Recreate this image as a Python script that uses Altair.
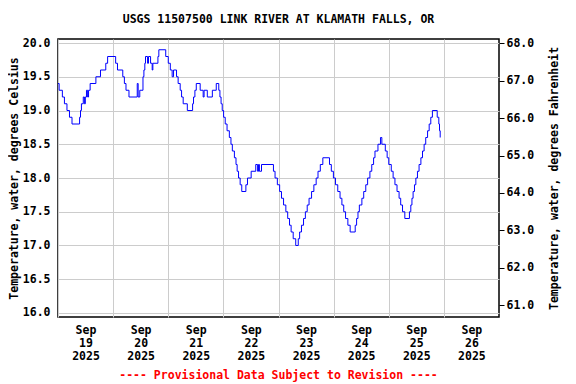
import altair as alt
import pandas as pd

# hours after 2025-09-19 00:00 at which the reading changes, and the reading (deg C)
hours = [0.0, 0.5, 1.9, 2.8, 3.9, 5.0, 6.1, 9.4, 9.8, 10.2, 11.0, 11.5, 11.9, 12.4, 12.9, 13.3,
         14.0, 16.5, 18.5, 20.8, 21.6, 25.1, 25.9, 28.2, 28.9, 29.6, 30.9, 34.5, 34.9, 35.6,
         37.0, 37.4, 37.8, 38.1, 39.0, 39.4, 40.3, 41.0, 41.3, 43.5, 43.9, 46.9, 48.0, 48.9,
         49.7, 50.3, 51.6, 52.3, 53.2, 53.8, 54.5, 56.3, 58.6, 59.0, 59.6, 60.2, 61.9, 63.2,
         63.6, 65.0, 67.2, 68.9, 70.0, 70.5, 71.0, 71.5, 72.1, 72.8, 73.6, 74.6, 75.3, 75.9,
         76.8, 77.5, 78.0, 78.6, 79.3, 80.0, 81.8, 82.5, 84.1, 86.1, 86.9, 87.3, 87.7, 88.6,
         93.8, 94.5, 95.5, 96.5, 97.3, 98.2, 99.2, 100.0, 100.8, 101.5, 102.4, 103.5, 104.6,
         105.2, 106.0, 106.9, 107.7, 108.5, 109.3, 110.4, 111.4, 112.4, 113.2, 114.2, 115.3,
         118.2, 119.0, 119.9, 120.8, 121.8, 122.8, 123.6, 124.4, 125.2, 126.2, 127.2, 129.4,
         130.0, 130.6, 131.2, 132.3, 133.1, 134.0, 134.8, 135.8, 136.6, 137.4, 138.0, 139.3,
         140.4, 141.0, 142.5, 143.3, 144.0, 145.1, 145.9, 146.7, 147.6, 148.5, 149.2, 150.0,
         151.0, 153.0, 153.6, 154.1, 154.6, 155.2, 155.8, 156.5, 157.2, 158.0, 158.7, 159.4,
         160.1, 160.9, 161.6, 162.3, 163.0, 165.1, 165.8, 166.1, 166.4]
temps_c = [19.4, 19.3, 19.2, 19.1, 19.0, 18.9, 18.8, 18.9, 19.0, 19.1, 19.2, 19.1, 19.2, 19.3, 19.2, 19.3,
           19.4, 19.5, 19.6, 19.7, 19.8, 19.7, 19.6, 19.5, 19.4, 19.3, 19.2, 19.4, 19.2, 19.3,
           19.5, 19.6, 19.7, 19.8, 19.7, 19.8, 19.7, 19.6, 19.7, 19.8, 19.9, 19.8, 19.7, 19.6,
           19.5, 19.6, 19.5, 19.4, 19.3, 19.2, 19.1, 19.0, 19.1, 19.2, 19.3, 19.4, 19.3, 19.2,
           19.3, 19.2, 19.3, 19.4, 19.3, 19.2, 19.1, 19.0, 18.9, 18.8, 18.7, 18.6, 18.5, 18.4,
           18.3, 18.2, 18.1, 18.0, 17.9, 17.8, 17.9, 18.0, 18.1, 18.2, 18.1, 18.2, 18.1, 18.2,
           18.1, 18.0, 17.9, 17.8, 17.7, 17.6, 17.5, 17.4, 17.3, 17.2, 17.1, 17.0, 17.1,
           17.2, 17.3, 17.4, 17.5, 17.6, 17.7, 17.8, 17.9, 18.0, 18.1, 18.2, 18.3,
           18.2, 18.1, 18.0, 17.9, 17.8, 17.7, 17.6, 17.5, 17.4, 17.3, 17.2, 17.3,
           17.4, 17.5, 17.6, 17.7, 17.8, 17.9, 18.0, 18.1, 18.2, 18.3, 18.4, 18.5,
           18.6, 18.5, 18.4, 18.3, 18.2, 18.1, 18.0, 17.9, 17.8, 17.7, 17.6, 17.5,
           17.4, 17.5, 17.6, 17.7, 17.8, 17.9, 18.0, 18.1, 18.2, 18.3, 18.4, 18.5,
           18.6, 18.7, 18.8, 18.9, 19.0, 18.9, 18.8, 18.7, 18.6]

c_ticks = [16.0, 16.5, 17.0, 17.5, 18.0, 18.5, 19.0, 19.5, 20.0]
f_ticks = [61.0, 62.0, 63.0, 64.0, 65.0, 66.0, 67.0, 68.0]
tick_days = [19, 20, 21, 22, 23, 24, 25, 26]

title_text = "USGS 11507500 LINK RIVER AT KLAMATH FALLS, OR"
footer_text = "---- Provisional Data Subject to Revision ----"
left_title = "Temperature, water, degrees Celsius"
right_title = "Temperature, water, degrees Fahrenheit"

start = pd.Timestamp("2025-09-19 00:00")
df = pd.DataFrame({"time": start + pd.to_timedelta(hours, unit="h"), "temp": temps_c})

FONT = "DejaVu Sans Mono"
FS = 11.5
W, H = 441, 278
c_domain = [15.9407, 20.0593]
f_domain = [c * 9 / 5 + 32 for c in c_domain]
x_domain = [alt.DateTime(year=2025, month=9, date=19), alt.DateTime(year=2025, month=9, date=27)]
x_values = [alt.DateTime(year=2025, month=9, date=d) for d in tick_days]

common_axis = dict(labelFont=FONT, labelFontSize=FS, labelFontWeight="bold", labelColor="black",
                   titleFont=FONT, titleFontSize=FS, titleFontWeight="bold", titleColor="black")

x_enc = alt.X("time:T", scale=alt.Scale(domain=x_domain),
              axis=alt.Axis(values=x_values,
                            labelExpr="[timeFormat(datum.value, '%b'), timeFormat(datum.value, '%d'), timeFormat(datum.value, '%Y')]",
                            labelOffset=27.5, labelFlush=False, labelOverlap=False, labelBound=False,
                            grid=True, gridColor="#cccccc", gridWidth=1, ticks=False, domain=False,
                            title=None, labelPadding=7, labelLineHeight=13, labelBaseline="top",
                            **common_axis))

line = alt.Chart(df).mark_line(color="#0000ff", strokeWidth=1, interpolate="step-after").encode(
    x=x_enc,
    y=alt.Y("temp:Q", scale=alt.Scale(domain=c_domain, nice=False, zero=False),
            axis=alt.Axis(values=c_ticks, format=".1f", title=left_title, ticks=False, domain=False,
                          grid=True, gridColor="#cccccc", gridWidth=1, labelPadding=8, titlePadding=3,
                          **common_axis)),
)

right = alt.Chart(df).transform_calculate(tf="datum.temp * 9 / 5 + 32").mark_line(opacity=0).encode(
    x=x_enc,
    y=alt.Y("tf:Q", scale=alt.Scale(domain=f_domain, nice=False, zero=False),
            axis=alt.Axis(orient="right", values=f_ticks, format=".1f", title=right_title,
                          titleAngle=270, grid=False, domain=False, ticks=True, tickSize=5,
                          tickColor="black", labelPadding=2, titlePadding=26, **common_axis)),
)

footer = alt.Chart(pd.DataFrame({"note": [footer_text]})).mark_text(
    font=FONT, fontSize=FS, fontWeight="bold", color="#ff0000", baseline="middle", align="center"
).encode(text="note:N", x=alt.value(W / 2), y=alt.value(337))

chart = alt.layer(line, right, footer).resolve_scale(y="independent").properties(
    width=W, height=H,
    title=alt.Title(title_text, font=FONT, fontSize=FS, fontWeight="bold", color="black",
                    anchor="middle", offset=12),
    autosize=alt.AutoSizeParams(type="none"),
    padding={"left": 50, "top": 31, "right": 69, "bottom": 68},
).configure_view(stroke="black", strokeWidth=1.5)

chart.save("out.html", embed_options={"renderer": "svg", "actions": False})
